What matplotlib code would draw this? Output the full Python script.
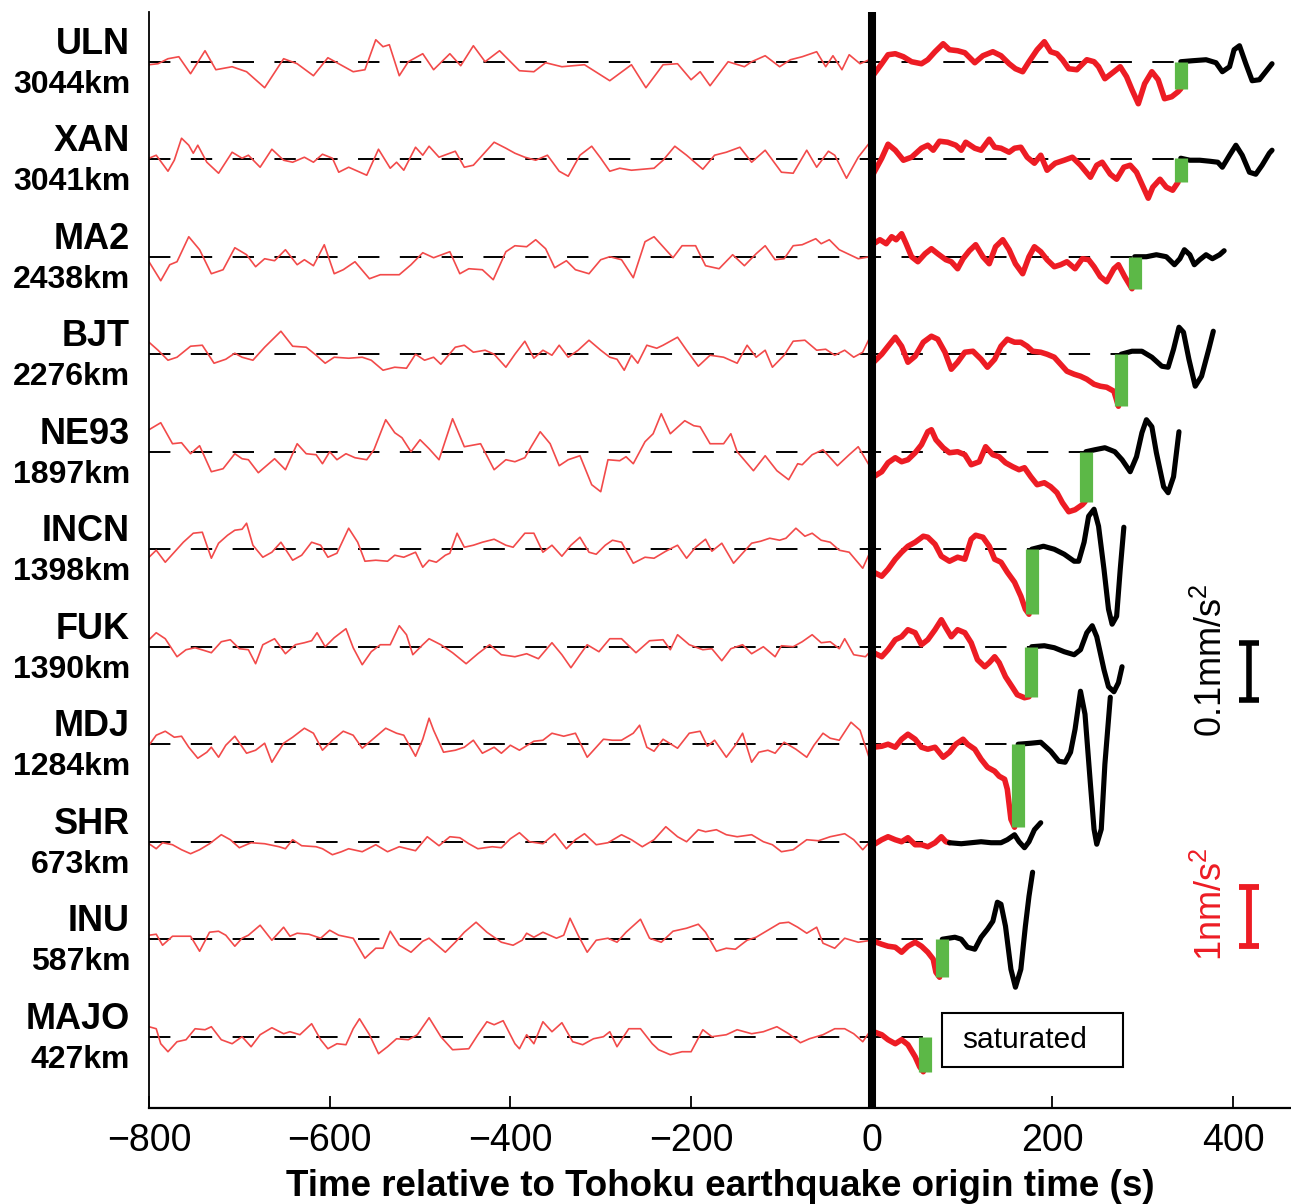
import numpy as np
import matplotlib
matplotlib.use('Agg')
import matplotlib.pyplot as plt
from matplotlib.patches import Rectangle

plt.rcParams['font.family'] = ['Liberation Sans', 'DejaVu Sans']
plt.rcParams['mathtext.fontset'] = 'custom'
plt.rcParams['mathtext.rm'] = 'Liberation Sans'
plt.rcParams['mathtext.it'] = 'Liberation Sans:italic'
plt.rcParams['mathtext.bf'] = 'Liberation Sans:bold'

# stations from top to bottom
stations = ['ULN', 'XAN', 'MA2', 'BJT', 'NE93', 'INCN', 'FUK', 'MDJ', 'SHR', 'INU', 'MAJO']
distances = ['3044km', '3041km', '2438km', '2276km', '1897km', '1398km',
             '1390km', '1284km', '673km', '587km', '427km']
# time (s) where the record saturates (green marks)
t_sat = [342, 342, 291, 276, 237, 177, 176, 162, 86, 78, 59]

# amplitudes are in plot units, 97.5 units between two traces
SPACING = 97.5

# ---- noise before origin time (thin red) ----
uln_noise_t = [-800, -790, -779, -767, -754, -738, -726, -708, -692, -672, -651, -636, -618, -602, -590,
               -574, -561, -549, -541, -534, -523, -513, -497, -485, -467, -455, -441, -428, -412, -390,
               -374, -361, -343, -318, -290, -266, -250, -231, -215, -200, -190, -179, -159, -141, -133,
               -118, -102, -90, -77, -61, -51, -43, -33, -25, -13, 0]
uln_noise_a = [-3, -2, 3, 5, -12, 11, -8, -5, -10, -26, 3, -2, -14, 4, -2,
               -10, -8, 22, 15, 17, -14, 0, 8, -8, 8, -4, 16, 0, 11, -9,
               -10, -1, -5, -3, -19, -3, -26, -3, -2, -18, -10, -24, 0, -5, 0,
               6, -5, 2, 5, 10, -5, 6, -8, 7, -2, 3]

xan_noise_t = [-800, -792, -779, -772, -764, -756, -751, -746, -736, -723, -708, -697, -690, -677, -664,
               -651, -641, -628, -618, -608, -597, -590, -579, -569, -559, -546, -533, -526, -518, -505,
               -497, -490, -479, -461, -451, -441, -431, -418, -405, -395, -384, -372, -359, -346, -336,
               -323, -310, -300, -290, -279, -266, -241, -231, -218, -205, -187, -174, -161, -146, -133,
               -118, -100, -87, -72, -61, -48, -41, -28, -15, -2]
xan_noise_a = [1, 4, -12, -1, 21, 14, 6, 14, -3, -14, 7, 1, 4, -8, 10,
               -1, -3, 2, -3, 5, 1, -13, -8, -12, -16, 10, -9, -3, -11, 12,
               4, 13, 2, 8, -8, -6, 4, 17, 11, 6, 2, -1, 4, -12, -17,
               4, 13, 1, -12, -9, -11, -9, -1, 13, 4, -10, 4, 7, 12, -3,
               9, -13, -14, 9, -8, 8, 4, -19, 2, 17]

ma2_noise_t = [-800, -787, -777, -769, -756, -744, -731, -718, -705, -692, -682, -672, -661, -649, -636,
               -628, -618, -606, -595, -585, -572, -556, -544, -523, -510, -497, -485, -467, -456, -446,
               -431, -419, -405, -395, -382, -372, -361, -351, -338, -328, -313, -300, -290, -277, -264,
               -251, -241, -220, -210, -195, -184, -169, -154, -141, -128, -118, -107, -97, -87, -77,
               -62, -56, -47, -36, -15, -2]
ma2_noise_a = [-5, -24, -8, -5, 20, 7, -17, -13, 9, 2, -10, -2, -4, 7, -8,
               -3, -9, 12, -17, -13, -5, -22, -18, -18, -8, 4, -1, 5, -17, -12,
               -13, -23, 5, 11, 10, 17, 8, -11, -4, -13, -17, -3, 0, -3, -21,
               15, 20, -1, 11, 11, -9, -12, 2, -9, 3, 11, -3, -2, 11, 12,
               18, 13, 17, 7, -2, 0]

bjt_noise_t = [-800, -790, -779, -769, -754, -741, -728, -715, -705, -697, -685, -672, -654, -641, -626,
               -615, -605, -595, -579, -564, -554, -541, -528, -515, -505, -495, -485, -477, -461, -451,
               -441, -428, -418, -405, -395, -384, -374, -364, -354, -346, -336, -325, -313, -300, -290,
               -282, -274, -266, -259, -249, -238, -231, -215, -205, -192, -179, -164, -149, -138, -128,
               -118, -110, -97, -87, -74, -61, -51, -41, -30, -20, -10, -1]
bjt_noise_a = [12, 4, -6, -3, 8, 9, -9, -5, 1, -3, -6, 7, 23, 8, 7,
               -1, -9, -3, -4, -3, -6, -16, -13, -14, 0, -6, -3, -10, 7, 9,
               2, 4, 0, -13, 0, 13, -4, 4, -1, 9, -3, 4, 14, 4, -3,
               -5, -16, -1, -9, 9, 6, 9, 17, 4, -12, -1, -3, -9, 9, -3,
               4, -13, -1, 13, 14, 4, 5, -1, 4, -3, 2, 19]

ne93_noise_t = [-800, -787, -774, -764, -754, -744, -731, -718, -705, -697, -690, -679, -661, -649, -636,
                -626, -615, -608, -600, -592, -582, -572, -559, -551, -538, -528, -520, -510, -500, -490,
                -479, -464, -451, -433, -418, -405, -395, -384, -377, -367, -356, -346, -336, -323, -310,
                -300, -292, -279, -272, -264, -251, -242, -233, -223, -207, -197, -190, -179, -164, -156,
                -149, -131, -118, -105, -92, -82, -77, -66, -54, -38, -25, -15, 0]
ne93_noise_a = [22, 29, 8, 9, -2, 6, -20, -17, -2, -7, -8, -21, -7, -18, 8,
                -2, -3, -12, 0, -8, -2, -6, -8, 2, 32, 19, 14, 0, 12, 3,
                -8, 33, 5, 8, -18, -8, -10, -6, 5, 20, 8, -14, -8, -4, -33,
                -40, -8, -9, -5, -12, 10, 18, 38, 18, 31, 26, 25, 8, 8, 18,
                0, -19, -4, -19, -28, -12, -13, -3, 2, -14, -3, 5, -18]

incn_noise_t = [-800, -792, -782, -772, -762, -751, -741, -731, -723, -713, -705, -697, -692, -685, -674,
                -664, -654, -641, -631, -620, -610, -602, -592, -579, -569, -561, -549, -536, -528, -518,
                -505, -497, -490, -482, -472, -467, -459, -451, -441, -431, -418, -405, -397, -384, -374,
                -364, -354, -343, -333, -323, -313, -305, -295, -287, -277, -264, -251, -241, -228, -215,
                -205, -195, -184, -177, -166, -153, -143, -133, -123, -113, -102, -95, -84, -74, -66,
                -56, -46, -36, -25, -10, 0]
incn_noise_a = [-8, -1, -13, -3, 7, 16, 17, -9, 6, 14, 19, 20, 26, 4, -8,
                -3, 7, -11, -6, 7, 4, -8, -4, 21, 7, -12, -11, -12, -6, -8,
                -3, -18, -11, -13, -6, -4, 16, 2, 4, 7, 10, 4, 2, 16, 16,
                -3, 4, -7, 4, 12, -3, -5, 4, 9, 7, -14, -8, -9, -2, 4,
                -9, 2, 10, -2, 6, -14, -4, 6, 8, 11, 9, 11, 21, 13, 16,
                9, 7, -1, -3, -19, 1]

fuk_noise_t = [-800, -792, -782, -769, -759, -749, -738, -731, -720, -710, -700, -690, -682, -674, -661,
               -649, -638, -628, -620, -614, -605, -595, -582, -574, -564, -554, -544, -533, -523, -515,
               -508, -497, -490, -477, -464, -449, -436, -423, -410, -395, -382, -369, -354, -343, -333,
               -323, -315, -302, -290, -277, -261, -246, -231, -223, -215, -202, -187, -177, -166, -156,
               -143, -133, -120, -107, -100, -87, -77, -66, -56, -46, -36, -30, -20, -7, 0]
fuk_noise_a = [7, 14, 8, -10, -3, -1, -4, -6, 5, 7, -2, -3, -17, 2, 8,
               -7, 2, 4, 6, 14, 0, 9, 18, -1, -18, -5, 2, 2, 21, 12,
               -8, 2, 8, 2, -6, -17, -7, 2, -8, -10, -7, -12, 4, -8, -21,
               -8, 2, -5, 8, 8, -6, 6, 7, -3, 12, 2, -3, -2, -14, -2,
               2, -7, 0, -10, 1, 0, 5, 12, 4, 5, -2, 8, -8, -10, -3]

mdj_noise_t = [-800, -792, -782, -772, -764, -756, -746, -736, -731, -723, -715, -705, -692, -682, -672,
               -664, -651, -641, -628, -618, -608, -597, -585, -574, -564, -551, -538, -526, -518, -505,
               -497, -490, -485, -474, -461, -451, -441, -431, -418, -410, -400, -390, -374, -364, -354,
               -341, -328, -315, -308, -297, -287, -277, -264, -257, -249, -241, -231, -215, -202, -190,
               -182, -174, -161, -151, -143, -133, -125, -115, -107, -97, -84, -72, -64, -54, -46,
               -36, -23, -13, -2]
mdj_noise_a = [-1, 9, 13, 7, 8, -3, -14, -8, -3, -13, -1, 8, -9, -6, 1,
               -18, 1, 7, 16, 11, -6, 4, 13, 9, -4, 6, 16, 11, 9, -12,
               5, 26, 14, -8, -6, -3, 4, -9, -3, -9, -1, -6, 3, 4, 11,
               8, 11, -13, -6, 5, 4, 4, 11, 19, -3, -7, 5, -4, 11, 13,
               -2, 4, -13, -1, 11, -18, -8, -6, -9, 2, -5, -13, -1, 11, 6,
               4, 22, 14, -16]

shr_noise_t = [-800, -792, -785, -774, -764, -754, -744, -733, -720, -710, -700, -687, -672, -656, -649,
               -641, -631, -615, -608, -597, -587, -579, -564, -549, -536, -523, -505, -492, -479, -467,
               -456, -446, -436, -420, -410, -400, -390, -379, -364, -351, -338, -328, -318, -305, -292,
               -277, -266, -254, -241, -228, -215, -205, -192, -184, -172, -161, -149, -133, -120, -110,
               -100, -87, -72, -59, -46, -30, -20, -10, 0]
shr_noise_a = [-2, -7, -1, -3, -8, -12, -8, -2, 7, 2, -6, -1, -2, -5, -7,
               2, -4, -5, -7, -13, -10, -7, -10, -3, -10, -5, -9, 5, -4, 5,
               4, -2, -7, -5, -6, 3, 9, 0, -2, 8, -7, 2, 8, -3, -1,
               7, 2, -5, 2, 15, 5, 0, 12, 10, 12, 7, 5, 7, 0, -3,
               -10, -8, 2, 1, 5, 8, 2, -8, 2]

inu_noise_t = [-800, -792, -785, -774, -754, -744, -733, -723, -715, -705, -697, -690, -677, -664, -651,
               -644, -636, -623, -610, -600, -590, -574, -561, -549, -541, -533, -523, -510, -497, -490,
               -472, -461, -451, -438, -426, -410, -397, -387, -382, -374, -364, -349, -341, -334, -325,
               -315, -305, -292, -282, -272, -256, -246, -233, -220, -205, -192, -184, -172, -161, -151,
               -138, -128, -115, -102, -92, -82, -72, -61, -54, -41, -30, -15, 0]
inu_noise_a = [4, 5, -6, 3, 3, -12, 7, 8, 4, -7, 1, 4, 14, -1, 12,
               3, 6, 5, 1, 9, 4, 1, -19, -9, -9, 8, -6, -13, -2, 1,
               -13, -3, 7, 17, 7, -3, -6, -1, 6, 2, 7, 1, 4, 21, 4,
               -13, -1, 1, -3, 7, 20, 1, -3, 8, 11, 15, 7, -12, -9, -10,
               -1, 2, 9, 16, 17, 12, 6, 12, -4, -9, 1, -3, -1]

majo_noise_t = [-800, -792, -787, -779, -769, -759, -749, -738, -731, -720, -708, -697, -687, -677, -664,
                -651, -644, -633, -620, -610, -602, -592, -582, -574, -567, -556, -546, -536, -526, -513,
                -503, -490, -477, -464, -446, -436, -426, -418, -408, -395, -390, -382, -374, -364, -354,
                -343, -331, -320, -308, -297, -290, -282, -269, -256, -243, -236, -223, -210, -200, -187,
                -177, -161, -149, -133, -120, -105, -92, -79, -69, -54, -41, -30, -20, -10, 0]
majo_noise_a = [10, 8, -7, -15, -5, -3, 8, 7, 10, -3, -7, 0, -10, 2, 9,
                3, 5, 2, 13, -3, -12, -7, -8, 8, 18, 2, -17, -10, -2, -3,
                2, 19, 0, -13, -12, 2, 15, 12, 16, -7, -12, 2, -7, 15, 5,
                14, -5, -8, -2, 0, 5, -10, 8, 8, -7, -13, -18, -15, -15, 7,
                0, 2, 7, 3, 5, 10, 3, -6, -2, 2, 8, 8, 3, -5, 8]

# ---- signal after origin time, before saturation (thick red) ----
uln_red_t = [2, 11, 18, 26, 35, 44, 55, 62, 70, 79, 86, 95, 103, 114, 123, 134, 143, 152, 159, 167,
             174, 183, 191, 198, 205, 211, 218, 227, 238, 246, 251, 258, 268, 275, 282, 288, 295, 302,
             310, 317, 324, 332, 339, 342]
uln_red_a = [-13, -2, 7, 8, 5, 0, -2, 2, 10, 18, 12, 11, 9, -1, 6, 10, 6, -2, -7, -10,
             0, 12, 20, 10, 8, 2, -7, -8, 2, 0, -5, -17, -10, -5, -15, -28, -42, -22,
             -10, -18, -37, -35, -30, -27]
xan_red_t = [2, 11, 18, 26, 35, 44, 55, 62, 68, 75, 84, 93, 99, 104, 114, 121, 130, 136, 143, 152,
             158, 165, 172, 180, 187, 194, 203, 213, 222, 231, 242, 249, 255, 264, 271, 279, 286, 293,
             301, 306, 311, 319, 326, 333, 339]
xan_red_a = [-14, 1, 15, 9, -1, 2, 11, 14, 9, 18, 17, 14, 9, 17, 11, 9, 20, 12, 11, 7,
             11, 12, 2, -4, 4, -11, -4, -1, 2, -6, -18, -6, -3, -15, -20, -8, -6, -13,
             -29, -39, -28, -20, -28, -31, -23]
ma2_red_t = [2, 9, 16, 22, 27, 33, 38, 44, 51, 59, 66, 73, 82, 88, 95, 101, 108, 115, 123, 130,
             137, 145, 152, 159, 167, 174, 180, 187, 194, 202, 209, 216, 225, 233, 240, 246, 253, 260,
             268, 273, 280, 288]
ma2_red_a = [13, 17, 13, 20, 17, 23, 13, 0, -5, 3, 8, 3, -3, -5, -12, -2, 6, 12, 0, -7,
             10, 17, 7, -7, -17, 0, 10, 5, -3, -10, -8, -5, -12, -2, -3, -10, -20, -25,
             -12, -8, -20, -32]
bjt_red_t = [2, 11, 18, 26, 33, 40, 48, 57, 66, 73, 81, 88, 95, 103, 112, 121, 128, 136, 143, 150,
             158, 165, 172, 178, 187, 194, 202, 209, 216, 224, 231, 238, 246, 253, 260, 268, 273]
bjt_red_a = [-8, 0, 8, 17, 8, -8, -2, 12, 18, 15, 2, -15, -8, 2, 3, -5, -13, -5, 8, 15,
             12, 12, 8, 3, 2, 0, -3, -10, -17, -20, -22, -25, -30, -32, -33, -37, -52]
ne93_red_t = [2, 11, 18, 26, 33, 40, 48, 55, 62, 66, 71, 79, 86, 95, 103, 110, 119, 126, 134, 141,
              148, 156, 163, 169, 176, 183, 191, 198, 205, 211, 218, 225, 233, 236]
ne93_red_a = [-25, -20, -11, -6, -10, -8, -1, 7, 20, 22, 12, 4, -1, 0, -3, -13, -10, 5, -3, -5,
              -11, -15, -18, -16, -25, -33, -31, -35, -41, -51, -60, -58, -53, -50]
incn_red_t = [2, 11, 18, 26, 33, 40, 48, 57, 62, 70, 77, 86, 95, 103, 110, 115, 123, 130, 136, 143,
              150, 158, 165, 170, 174]
incn_red_a = [-23, -27, -20, -10, -3, 3, 7, 13, 12, 5, -7, -12, -8, -10, 10, 14, 12, 3, -10, -13,
              -23, -33, -47, -60, -65]
fuk_red_t = [2, 11, 18, 26, 33, 40, 48, 55, 62, 70, 77, 82, 88, 95, 103, 110, 117, 125, 130, 136,
             141, 148, 156, 161, 169, 174]
fuk_red_a = [-6, -10, -3, 7, 10, 17, 14, 2, 7, 17, 27, 19, 10, 17, 14, 4, -13, -20, -16, -10,
             -16, -30, -41, -48, -51, -50]
mdj_red_t = [2, 11, 18, 26, 33, 40, 48, 55, 62, 70, 79, 86, 93, 101, 106, 114, 121, 128, 136, 141,
             147, 150, 154, 158]
mdj_red_a = [-3, -2, 0, -3, 5, 10, 5, -3, -5, -3, -13, -8, 0, 5, 0, -5, -15, -23, -27, -32,
             -35, -45, -75, -83]
shr_red_t = [2, 11, 18, 26, 33, 40, 48, 55, 62, 70, 77, 82, 86]
shr_red_a = [-3, 2, 5, 2, 0, 4, -3, -3, -5, -1, 5, 0, -1]
inu_red_t = [2, 11, 18, 26, 33, 40, 48, 55, 62, 68, 71, 75]
inu_red_a = [-2, -5, -7, -8, -13, -7, -3, -7, -13, -20, -33, -38]
majo_red_t = [2, 11, 18, 26, 33, 40, 48, 53, 57]
majo_red_a = [5, 2, -3, -7, -3, -8, -20, -30, -35]

# ---- broadband record after saturation (thick black) ----
uln_black_t = [342, 355, 370, 381, 388, 396, 401, 407, 414, 421, 429, 436, 443]
uln_black_a = [0, 1, 2, -1, -10, -5, 12, 16, -2, -19, -18, -10, -2]
xan_black_t = [342, 352, 363, 374, 383, 388, 396, 403, 410, 418, 425, 432, 440, 443]
xan_black_a = [1, -1, -1, -2, -3, -8, 4, 14, 4, -13, -15, -6, 6, 9]
ma2_black_t = [291, 304, 315, 326, 335, 341, 346, 352, 357, 363, 370, 377, 385, 390]
ma2_black_a = [0, 0, 2, 0, -8, -2, 7, 2, -8, -3, 2, -2, 2, 6]
bjt_black_t = [276, 288, 299, 310, 321, 328, 334, 340, 345, 351, 358, 365, 373, 378]
bjt_black_a = [0, 3, 3, -3, -12, -13, 5, 27, 22, -5, -32, -22, 5, 23]
ne93_black_t = [237, 247, 258, 269, 277, 286, 293, 299, 304, 310, 315, 323, 328, 334, 340]
ne93_black_a = [0, 2, 4, 0, -8, -20, -5, 19, 32, 25, -1, -35, -41, -25, 20]
incn_black_t = [177, 190, 202, 213, 224, 229, 235, 240, 246, 251, 257, 262, 266, 271, 275, 279]
incn_black_a = [0, 3, 0, -5, -12, -12, 7, 33, 40, 23, -20, -60, -75, -67, -20, 22]
fuk_black_t = [177, 191, 202, 213, 224, 231, 238, 244, 249, 257, 262, 268, 273, 277]
fuk_black_a = [0, 1, -1, -5, -8, -3, 14, 21, 10, -23, -40, -45, -36, -20]
mdj_black_t = [162, 176, 187, 198, 207, 214, 220, 225, 231, 236, 242, 246, 249, 254, 258, 264]
mdj_black_a = [0, 1, 2, -7, -17, -18, -8, 15, 53, 30, -40, -85, -100, -85, -20, 47]
shr_black_t = [86, 99, 110, 121, 132, 143, 150, 158, 163, 169, 174, 180, 187]
shr_black_a = [-1, -2, -1, 0, -1, -1, 2, 7, 0, -6, 0, 12, 19]
inu_black_t = [78, 92, 99, 106, 114, 121, 128, 134, 139, 143, 148, 154, 159, 165, 170, 174, 178]
inu_black_a = [0, 2, 0, -8, -10, 2, 10, 18, 37, 35, 13, -30, -48, -30, 13, 43, 67]
majo_black_t = []
majo_black_a = []

noise = [(uln_noise_t, uln_noise_a), (xan_noise_t, xan_noise_a), (ma2_noise_t, ma2_noise_a),
         (bjt_noise_t, bjt_noise_a), (ne93_noise_t, ne93_noise_a), (incn_noise_t, incn_noise_a),
         (fuk_noise_t, fuk_noise_a), (mdj_noise_t, mdj_noise_a), (shr_noise_t, shr_noise_a),
         (inu_noise_t, inu_noise_a), (majo_noise_t, majo_noise_a)]
red = [(uln_red_t, uln_red_a), (xan_red_t, xan_red_a), (ma2_red_t, ma2_red_a),
       (bjt_red_t, bjt_red_a), (ne93_red_t, ne93_red_a), (incn_red_t, incn_red_a),
       (fuk_red_t, fuk_red_a), (mdj_red_t, mdj_red_a), (shr_red_t, shr_red_a),
       (inu_red_t, inu_red_a), (majo_red_t, majo_red_a)]
black = [(uln_black_t, uln_black_a), (xan_black_t, xan_black_a), (ma2_black_t, ma2_black_a),
         (bjt_black_t, bjt_black_a), (ne93_black_t, ne93_black_a), (incn_black_t, incn_black_a),
         (fuk_black_t, fuk_black_a), (mdj_black_t, mdj_black_a), (shr_black_t, shr_black_a),
         (inu_black_t, inu_black_a), (majo_black_t, majo_black_a)]

red_thin = '#f24a4a'
red_thick = '#ed1c24'
green = '#5cb847'

fig = plt.figure(figsize=(12.91, 12.04), dpi=100)
ax = fig.add_axes([149 / 1291, 96 / 1204, 1142 / 1291, 1096 / 1204])

n = len(stations)
ytr = ax.get_yaxis_transform()
for i in range(n):
    off = n - 1 - i
    # zero line up to the saturation time
    ax.plot([-800, t_sat[i]], [off, off], color='k', lw=1.4, dashes=(11, 10.5), zorder=1)
    nt, na = noise[i]
    ax.plot(nt, off + np.array(na) / SPACING, color=red_thin, lw=1.2, zorder=2,
            solid_joinstyle='round')
    rt, ra = red[i]
    ax.plot(rt, off + np.array(ra) / SPACING, color=red_thick, lw=4, zorder=3,
            solid_capstyle='round', solid_joinstyle='round')
    bt, ba = black[i]
    if len(bt) > 0:
        ax.plot(bt, off + np.array(ba) / SPACING, color='k', lw=3.7, zorder=3,
                solid_capstyle='round', solid_joinstyle='round')
        g_top = ba[0]
    else:
        g_top = 0
    ax.plot([t_sat[i], t_sat[i]], [off + ra[-1] / SPACING, off + g_top / SPACING],
            color=green, lw=9.5, solid_capstyle='butt', zorder=4)

    ax.text(-0.0166, off + 0.18, stations[i], transform=ytr, ha='right', va='center',
            fontsize=26, fontweight='bold')
    ax.text(-0.0166, off - 0.236, distances[i], transform=ytr, ha='right', va='center',
            fontsize=23, fontweight='bold')

# origin time
ax.axvline(0, color='k', lw=5.8, zorder=5)

# scale bars
ax.errorbar(417, 3.745, yerr=0.292, color='k', elinewidth=4, capsize=7, capthick=4)
ax.text(377, 3.86, '0.1mm/s$^2$', rotation=90, ha='center', va='center', fontsize=26)
ax.errorbar(417, 1.232, yerr=0.302, color=red_thick, elinewidth=4.2, capsize=7, capthick=4.2)
ax.text(377, 1.36, '1nm/s$^2$', rotation=90, ha='center', va='center', fontsize=26,
        color=red_thick)

# saturated label
ax.add_patch(Rectangle((77.5, -0.311), 200.3, 0.554, fill=False, ec='k', lw=1.5, zorder=5))
ax.text(99.6, -0.034, 'saturated', ha='left', va='center', fontsize=21.5)

ax.set_xlim(-800, 464)
ax.set_ylim(-0.731, 10.51)
ax.set_xticks([-800, -600, -400, -200, 0, 200, 400])
ax.set_yticks([])
ax.tick_params(axis='x', direction='in', length=9, width=1.3, labelsize=27, pad=11)
ax.spines['top'].set_visible(False)
ax.spines['right'].set_visible(False)
ax.spines['left'].set_linewidth(1.3)
ax.spines['bottom'].set_linewidth(1.6)
ax.set_xlabel('Time relative to Tohoku earthquake origin time (s)', fontsize=26.5,
              fontweight='bold', labelpad=7)

fig.savefig('out.png', dpi=100)
